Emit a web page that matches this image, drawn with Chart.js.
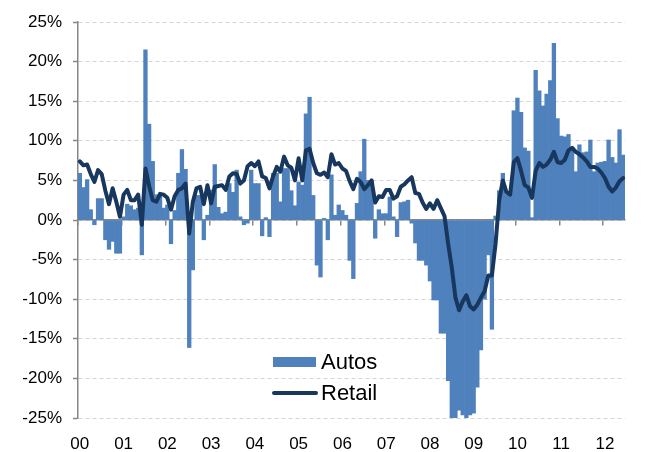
<!DOCTYPE html>
<html>
<head>
<meta charset="utf-8">
<script src="https://cdn.jsdelivr.net/npm/chart.js@4.4.1/dist/chart.umd.min.js"></script>
<style>
html,body{margin:0;padding:0;background:#fff;}
#wrap{width:646px;height:452px;}
</style>
</head>
<body>
<div id="wrap"><canvas id="c" width="646" height="452"></canvas></div>
<script>
// Year tick labels (one per January)
const years = ['00','01','02','03','04','05','06','07','08','09','10','11','12'];

// Series names
const autosName = 'Autos';
const retailName = 'Retail';

// Autos, y/y % change, monthly Jan 2000 .. Jun 2012
const autos = [
  5.9, 4.1, 5.1, 1.3, -0.6, 2.7, 2.7, -2.5, -3.7, -2.7, -4.2, -4.2,
  0.4, 2.0, 1.8, 1.3, 1.5, -4.4, 21.5, 12.1, 7.4, 3.2, 3.2, 1.5,
  1.9, -3.0, 1.2, 5.9, 8.9, 6.4, -16.1, -6.3, 3.1, 3.1, -2.5, 0.6,
  3.8, 7.0, 1.6, 0.8, 1.0, 4.6, 3.5, 6.3, 0.4, -0.6, -0.4, 6.3,
  4.6, 4.6, -2.0, 0.3, -2.1, 5.9, 5.9, 2.3, 6.5, 6.5, 3.7, 1.8,
  4.8, 4.4, 13.4, 15.5, 3.1, -5.7, -7.2, 0.2, -2.5, 5.7, 0.6, 1.9,
  1.2, 0.6, -5.1, -7.4, 2.1, 6.1, 10.2, 5.0, 5.0, -2.3, 1.3, 0.8,
  0.8, 2.9, 0.4, -2.1, 2.2, 2.3, 2.5, -0.4, -2.9, -5.1, -5.1, -5.7,
  -7.7, -10.1, -10.1, -14.3, -14.3, -20.3, -26, -26, -24.0, -24.6, -26, -24.6,
  -24.4, -21.1, -16.4, -10.0, -4.4, -13.8, 0.5, 3.7, 5.9, 3.2, 3.2, 13.8,
  15.4, 13.6, 9.1, 8.7, 0.3, 18.9, 16.3, 14.4, 15.9, 17.6, 22.3, 12.8,
  10.6, 10.5, 10.8, 9.2, 6.1, 9.5, 8.5, 8.6, 10.1, 6.1, 7.2, 7.3,
  7.4, 10.1, 7.9, 7.2, 11.4, 8.2
];

// Retail, y/y % change, monthly Jan 2000 .. Jun 2012
const retail = [
  7.4, 6.9, 7.0, 5.8, 4.8, 6.3, 5.8, 3.7, 2.0, 4.0, 2.3, 0.4,
  3.2, 3.8, 2.5, 2.5, 3.2, -0.6, 6.5, 4.3, 2.5, 2.3, 3.3, 3.2,
  2.8, 1.3, 3.0, 3.8, 4.0, 4.6, -1.7, 2.3, 4.0, 4.2, 2.0, 4.4,
  2.1, 4.2, 4.3, 4.4, 3.8, 5.5, 5.9, 5.8, 4.6, 5.0, 6.8, 7.2,
  6.8, 7.4, 5.5, 5.3, 4.0, 5.5, 6.7, 6.1, 8.0, 6.9, 6.6, 5.0,
  7.8, 5.0, 8.8, 9.0, 7.2, 5.9, 5.7, 6.0, 5.4, 8.3, 7.0, 7.2,
  6.5, 6.2, 4.9, 3.9, 5.2, 4.8, 3.9, 4.4, 5.0, 2.2, 3.0, 2.9,
  3.8, 3.8, 2.7, 3.0, 4.2, 4.5, 5.0, 5.4, 3.4, 3.3, 2.2, 1.4,
  2.1, 1.4, 2.5, 1.5, 0.5, -3.0, -6.0, -9.8, -11.4, -10.3, -9.5, -10.9,
  -11.3, -10.7, -9.8, -9.0, -7.0, -7.0, -3.0, 2.5, 5.0, 3.5, 3.2, 7.3,
  7.8, 6.2, 4.4, 4.1, 2.8, 6.2, 7.2, 6.7, 7.0, 7.6, 8.6, 7.3,
  7.2, 7.6, 8.8, 9.1, 8.6, 8.3, 7.9, 7.4, 6.7, 6.7, 6.5, 6.0,
  5.3, 4.2, 3.6, 4.1, 4.9, 5.3
];

// Category labels: year label on each January, blank otherwise
const labels = autos.map((_, i) => (i % 12 === 0 ? years[i / 12] : ''));

const AXIS_GRAY = '#868686';
const BAR_BLUE = '#4F81BD';
const LINE_NAVY = '#17375E';
const FONT = '"Liberation Sans", Arial, sans-serif';

const insideLegend = {
  id: 'insideLegend',
  afterDraw(chart) {
    const ctx = chart.ctx;
    const area = chart.chartArea;
    const x0 = area.left + 195;
    const items = [
      { ds: chart.data.datasets[1], kind: 'bar', y: 362 },
      { ds: chart.data.datasets[0], kind: 'line', y: 393 }
    ];
    ctx.save();
    ctx.font = '22px ' + FONT;
    ctx.textBaseline = 'middle';
    ctx.textAlign = 'left';
    items.forEach(it => {
      if (it.kind === 'bar') {
        ctx.fillStyle = it.ds.backgroundColor;
        ctx.fillRect(x0, it.y - 5, 43, 10);
      } else {
        ctx.strokeStyle = it.ds.borderColor;
        ctx.lineWidth = 4;
        ctx.lineCap = 'round';
        ctx.beginPath();
        ctx.moveTo(x0 + 1, it.y);
        ctx.lineTo(x0 + 43, it.y);
        ctx.stroke();
      }
      ctx.fillStyle = '#000';
      ctx.fillText(it.ds.label, x0 + 48, it.y + 1);
    });
    ctx.restore();
  }
};

new Chart(document.getElementById('c'), {
  type: 'bar',
  data: {
    labels: labels,
    datasets: [
      {
        type: 'line',
        label: retailName,
        data: retail,
        borderColor: LINE_NAVY,
        backgroundColor: LINE_NAVY,
        borderWidth: 4,
        pointRadius: 0,
        tension: 0,
        borderJoinStyle: 'round',
        borderCapStyle: 'round',
        order: 0
      },
      {
        type: 'bar',
        label: autosName,
        data: autos,
        backgroundColor: BAR_BLUE,
        borderWidth: 0,
        barPercentage: 1.0,
        categoryPercentage: 1.0,
        order: 1
      }
    ]
  },
  options: {
    responsive: false,
    animation: false,
    devicePixelRatio: 1,
    layout: { padding: { top: 22, right: 21, left: 0, bottom: 0 } },
    plugins: { legend: { display: false }, tooltip: { enabled: false } },
    scales: {
      x: {
        type: 'category',
        offset: true,
        position: { y: 0 },
        z: 1,
        ticks: { display: false, autoSkip: false },
        grid: {
          offset: true,
          drawOnChartArea: false,
          drawTicks: true,
          tickLength: 5,
          lineWidth: 1.5,
          color: (c) => (labels[c.index] ? AXIS_GRAY : 'rgba(0,0,0,0)')
        },
        border: { display: true, color: AXIS_GRAY, width: 1.5 }
      },
      x2: {
        type: 'category',
        offset: true,
        position: 'bottom',
        grid: { display: false },
        border: { display: false },
        ticks: {
          autoSkip: false, maxRotation: 0, minRotation: 0, padding: 8,
          color: '#000', font: { family: FONT, size: 17 }
        },
        afterFit: (s) => { s.height = 34; }
      },
      y: {
        min: -25,
        max: 25,
        ticks: {
          stepSize: 5,
          padding: 11,
          color: '#000',
          font: { family: FONT, size: 17 },
          callback: (v) => v + '%'
        },
        grid: {
          color: '#D4D4D4',
          lineWidth: 1,
          drawTicks: true,
          tickLength: 5,
          tickColor: AXIS_GRAY,
          tickWidth: 1.5
        },
        border: { display: true, color: AXIS_GRAY, width: 1.5, dash: [4, 3] },
        afterFit: (s) => { s.width = 78; }
      }
    }
  },
  plugins: [insideLegend]
});
</script>
</body>
</html>
